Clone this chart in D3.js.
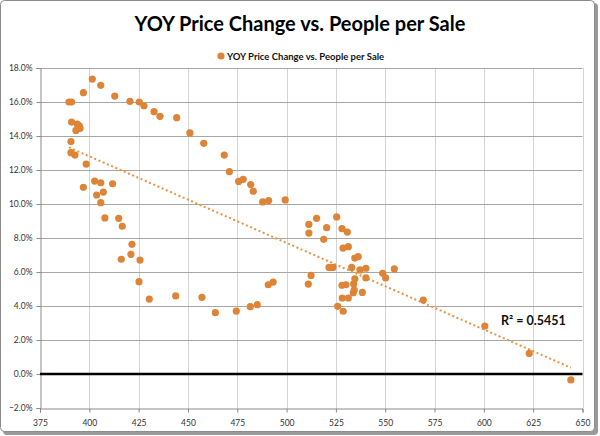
<!DOCTYPE html>
<html><head><meta charset="utf-8">
<script src="https://cdn.jsdelivr.net/npm/d3@7"></script>
<style>html,body{margin:0;padding:0;background:#fff;}svg{display:block;}</style>
</head><body>
<svg id="chart" width="600" height="436"></svg>
<script>
const titleText = "YOY Price Change vs. People per Sale";
const seriesName = "YOY Price Change vs. People per Sale";
const peoplePerSale = [389.7,391.0,397.0,401.5,405.8,412.9,420.6,425.3,427.7,432.8,435.8,444.3,451.0,458.0,468.4,471.0,475.7,478.0,481.8,483.1,487.9,490.9,499.3,
 391.0,393.9,394.9,395.3,393.2,390.7,390.7,392.7,398.4,397.0,402.7,405.8,411.8,403.7,407.1,405.8,407.9,414.9,416.7,421.6,421.1,416.2,425.7,425.2,430.4,443.8,457.1,463.9,474.5,481.6,485.1,490.7,493.2,
 511.3,515.2,511.3,520.3,518.8,525.4,528.1,530.8,528.6,531.3,534.6,536.3,521.5,523.5,533.0,537.2,540.2,534.6,540.2,548.7,550.2,554.6,512.4,511.0,528.1,530.1,534.3,533.8,538.4,528.2,531.3,525.9,528.7,534.0,
 569.3,600.5,623.0,644.1];
const yoyChange = [16.0,16.0,16.55,17.35,16.98,16.35,16.04,16.0,15.78,15.43,15.16,15.08,14.18,13.57,12.88,11.9,11.33,11.45,11.14,10.75,10.12,10.2,10.24,
 14.82,14.7,14.6,14.45,14.33,13.67,13.02,12.88,12.35,10.98,11.35,11.25,11.19,10.53,10.7,10.08,9.18,9.16,8.69,7.63,7.04,6.75,6.7,5.43,4.41,4.59,4.51,3.61,3.7,3.96,4.08,5.25,5.41,
 8.8,9.16,8.29,8.61,7.92,9.24,8.55,8.35,7.41,7.49,6.82,6.9,6.27,6.27,6.27,6.12,6.22,5.6,5.65,5.92,5.65,6.18,5.8,5.29,5.22,5.25,4.94,4.78,4.8,4.47,4.47,3.98,3.69,5.3,
 4.35,2.82,1.21,-0.35];
const xTicks = [375,400,425,450,475,500,525,550,575,600,625,650];
const yTicks = [-2,0,2,4,6,8,10,12,14,16,18];
const trendX = [389.7, 644.1];
const trendY = [13.33, 0.37];
const rSquaredLabel = "R² = 0.5451";

const svg = d3.select("#chart");
const orange = "#DE8436";

// frame
svg.append("rect").attr("x",3).attr("y",3).attr("width",595).attr("height",432).attr("rx",4).attr("fill","#9a9a9a");
svg.append("rect").attr("x",0.5).attr("y",0.5).attr("width",594).attr("height",431).attr("rx",4).attr("fill","#fff").attr("stroke","#8c8c8c");

const x = d3.scaleLinear().domain([375,650]).range([40,582.5]);
const y = d3.scaleLinear().domain([-2,18]).range([408,68]);

// vertical gridlines
svg.append("g").selectAll("line").data(xTicks.slice(1)).join("line")
  .attr("x1",d=>Math.round(x(d))+0.5).attr("x2",d=>Math.round(x(d))+0.5)
  .attr("y1",y(18)).attr("y2",y(-2)).attr("stroke","#d4d4d4").attr("stroke-width",1);
// horizontal gridlines
svg.append("g").selectAll("line").data(yTicks.filter(d=>d!==-2&&d!==0)).join("line")
  .attr("x1",x(375)).attr("x2",x(650))
  .attr("y1",d=>Math.round(y(d))+0.5).attr("y2",d=>Math.round(y(d))+0.5)
  .attr("stroke","#a6a6a6").attr("stroke-width",1);

// axes
const yAxis = d3.axisLeft(y).tickValues(yTicks).tickSize(4).tickPadding(4).tickFormat(d=>d3.format(".1f")(d)+"%");
const gy = svg.append("g").attr("transform",`translate(${Math.round(x(375))+0.5},0)`).call(yAxis);
const xAxis = d3.axisBottom(x).tickValues(xTicks).tickSize(4).tickPadding(7);
const gx = svg.append("g").attr("transform",`translate(0,${Math.round(y(-2))+0.5})`).call(xAxis);
[gy,gx].forEach(g=>{
  g.select(".domain").attr("stroke","#8a8a8a");
  g.selectAll(".tick line").attr("stroke","#8a8a8a");
  g.selectAll("text").attr("fill","#333").style("font-family","Lato, 'Liberation Sans', sans-serif").style("font-size","8.5px");
});
// zero line
svg.append("line").attr("x1",x(375)).attr("x2",x(650)).attr("y1",y(0)).attr("y2",y(0))
  .attr("stroke","#000").attr("stroke-width",2.5);

// trendline
svg.append("line").attr("x1",x(trendX[0])).attr("y1",y(trendY[0])).attr("x2",x(trendX[1])).attr("y2",y(trendY[1]))
  .attr("stroke","#EE913F").attr("stroke-width",2).attr("stroke-dasharray","2,2.6");

// points
const pts = peoplePerSale.map((v,i)=>({x:v,y:yoyChange[i]}));
svg.append("g").selectAll("circle").data(pts).join("circle")
  .attr("cx",d=>x(d.x)).attr("cy",d=>y(d.y)).attr("r",3.6).attr("fill",orange);

// R2 label
svg.append("text").attr("x",501).attr("y",325).text(rSquaredLabel)
  .style("font-family","Lato, sans-serif").style("font-weight","bold").style("font-size","12.5px").attr("fill","#111");

// title
svg.append("text").attr("x",300).attr("y",31).attr("text-anchor","middle").text(titleText)
  .style("font-family","Lato, sans-serif").style("font-weight","bold").style("font-size","20px").attr("fill","#000");

// legend
svg.append("circle").attr("cx",221).attr("cy",56).attr("r",3.6).attr("fill",orange);
svg.append("text").attr("x",227).attr("y",59.5).text(seriesName)
  .style("font-family","Lato, sans-serif").style("font-weight","bold").style("font-size","9.5px").attr("fill","#111");
</script>
</body></html>
